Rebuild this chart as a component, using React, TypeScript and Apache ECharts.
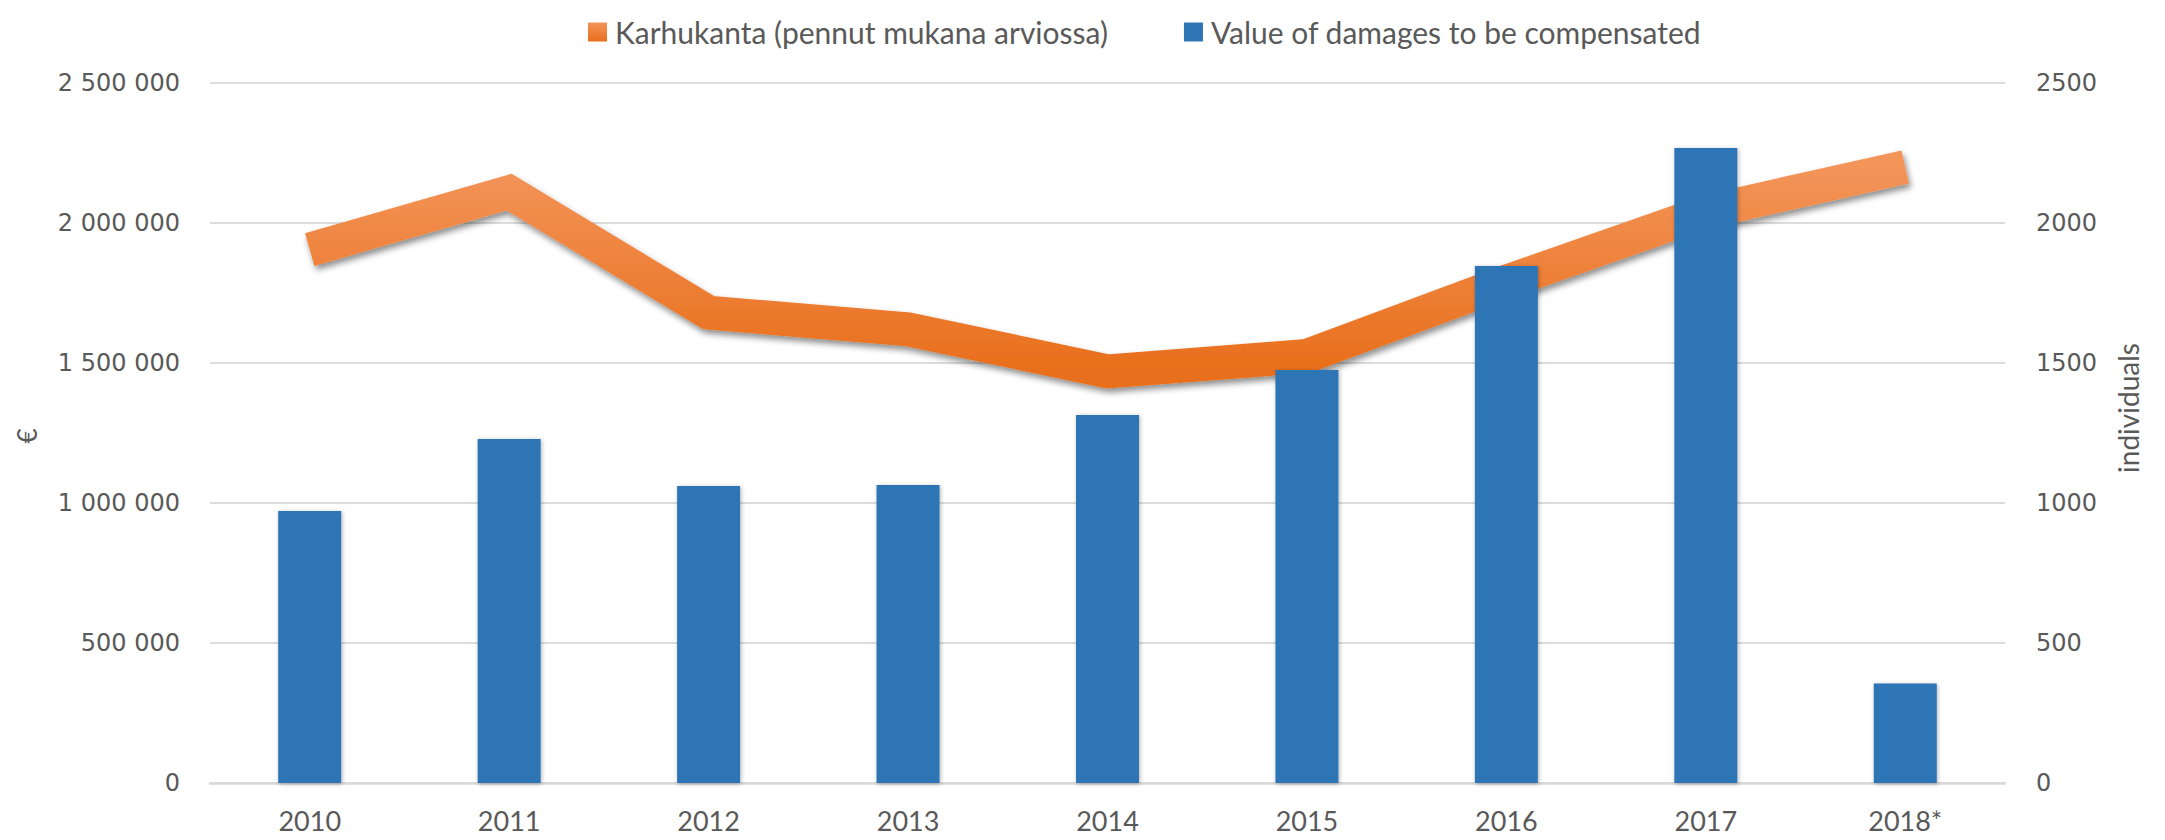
import React, { useEffect, useRef } from "react";
import * as echarts from "echarts";

const categories = ["2010", "2011", "2012", "2013", "2014", "2015", "2016", "2017", "2018*"];
const damages = [971000, 1229000, 1061000, 1064000, 1314000, 1475000, 1846000, 2268000, 355000];
const population = [1905, 2110, 1680, 1620, 1470, 1525, 1790, 2040, 2200];
const seriesNames = ["Karhukanta (pennut mukana arviossa)", "Value of damages to be compensated"];
const leftAxisTitle = "€";
const rightAxisTitle = "individuals";

const fmtSpaces = (v: number) => String(v).replace(/\B(?=(\d{3})+(?!\d))/g, " ");

export default function App() {
  const ref = useRef<HTMLDivElement>(null);
  useEffect(() => {
    if (!ref.current) return;
    const chart = echarts.init(ref.current, null, { renderer: "svg" });
    const orangeGrad = new echarts.graphic.LinearGradient(0, 0, 0, 1, [
      { offset: 0, color: "#F39459" },
      { offset: 1, color: "#E86F1B" },
    ]);
    const legendGrad = new echarts.graphic.LinearGradient(0, 0, 0, 1, [
      { offset: 0, color: "#F39459" },
      { offset: 1, color: "#E86F1B" },
    ]);
    const labelColor = "#595959";
    const catFont = "Lato, 'Open Sans', sans-serif";
    chart.setOption({
      animation: false,
      backgroundColor: "#ffffff",
      legend: {
        left: 583,
        top: 12,
        itemWidth: 19,
        itemHeight: 19,
        itemGap: 76,
        textStyle: { fontFamily: catFont, fontSize: 30, color: labelColor, padding: [0, 0, 0, 3] },
        data: [
          { name: seriesNames[0], icon: "rect", itemStyle: { color: legendGrad } },
          { name: seriesNames[1], icon: "rect", itemStyle: { color: "#2E75B6" } },
        ],
      },
      grid: { left: 210, right: 160, top: 83, bottom: 57, containLabel: false },
      xAxis: {
        type: "category",
        data: categories,
        boundaryGap: true,
        axisTick: { show: false },
        axisLine: { lineStyle: { color: "#D9D9D9", width: 2.5 } },
        axisLabel: { color: labelColor, fontFamily: catFont, fontSize: 27, margin: 24 },
      },
      yAxis: [
        {
          type: "value",
          min: 0,
          max: 2500000,
          interval: 500000,
          axisLine: { show: false },
          axisTick: { show: false },
          splitLine: { lineStyle: { color: "#DCDCDC", width: 2 } },
          axisLabel: {
            color: labelColor,
            fontFamily: "'DejaVu Sans', sans-serif",
            fontSize: 24,
            margin: 30,
            formatter: (v: number) => fmtSpaces(v),
          },
        },
        {
          type: "value",
          min: 0,
          max: 2500,
          interval: 500,
          position: "right",
          axisLine: { show: false },
          axisTick: { show: false },
          splitLine: { show: false },
          axisLabel: {
            color: labelColor,
            fontFamily: "'DejaVu Sans', sans-serif",
            fontSize: 24,
            margin: 31,
            formatter: (v: number) => String(v),
          },
        },
      ],
      series: [
        {
          name: seriesNames[0],
          type: "line",
          yAxisIndex: 1,
          data: population,
          symbol: "none",
          z: 1,
          lineStyle: {
            width: 34,
            color: orangeGrad,
            join: "miter",
            cap: "butt",
            shadowColor: "rgba(0,0,0,0.45)",
            shadowBlur: 6,
            shadowOffsetX: 2,
            shadowOffsetY: 4,
          },
          itemStyle: { color: "#ED7D31" },
        },
        {
          name: seriesNames[1],
          type: "bar",
          yAxisIndex: 0,
          data: damages,
          barWidth: 63,
          z: 3,
          itemStyle: {
            color: "#2E75B6",
            shadowColor: "rgba(0,0,0,0.3)",
            shadowBlur: 4,
            shadowOffsetX: 1,
            shadowOffsetY: 1,
          },
        },
      ],
      graphic: [
        {
          type: "text",
          x: 27,
          y: 436,
          rotation: Math.PI / 2,
          style: {
            text: leftAxisTitle,
            fill: labelColor,
            font: "26px Lato, 'Open Sans', sans-serif",
            align: "center",
            verticalAlign: "middle",
          },
        },
        {
          type: "text",
          x: 2128,
          y: 408,
          rotation: Math.PI / 2,
          style: {
            text: rightAxisTitle,
            fill: labelColor,
            font: "28px Lato, 'Open Sans', sans-serif",
            align: "center",
            verticalAlign: "middle",
          },
        },
      ],
    });
    return () => chart.dispose();
  }, []);
  return (
    <div
      ref={ref}
      style={{ position: "fixed", left: 0, top: 0, width: "2165px", height: "840px" }}
    />
  );
}
